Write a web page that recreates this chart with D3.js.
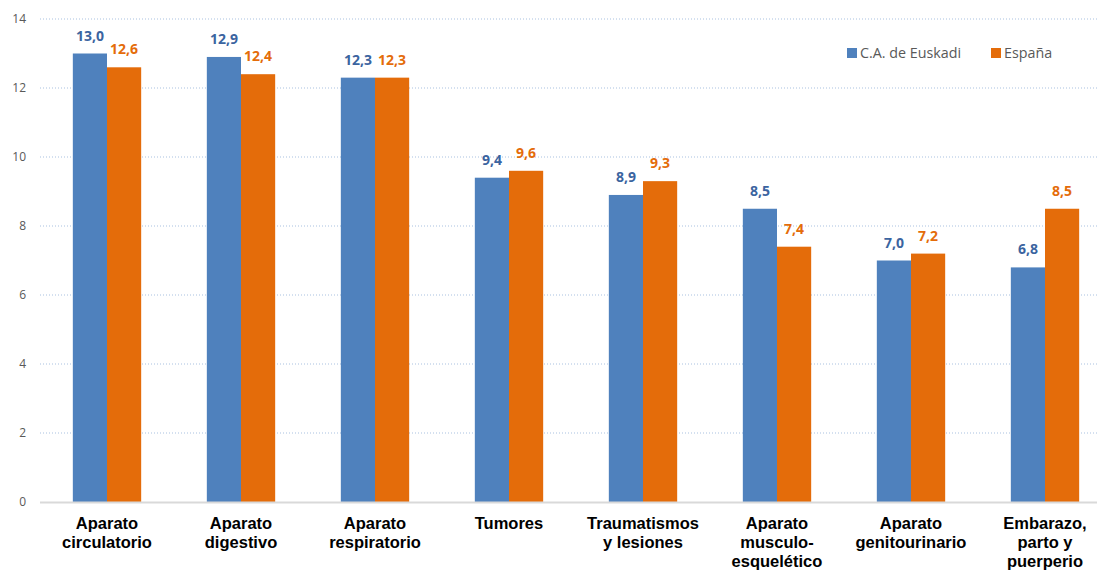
<!DOCTYPE html>
<html><head><meta charset="utf-8">
<script src="https://cdn.jsdelivr.net/npm/d3@7/dist/d3.min.js"></script>
<style>body{margin:0;background:#fff}svg{display:block}</style>
</head><body>
<svg id="c" width="1097" height="571"></svg>
<script>
const categories = [
  ["Aparato","circulatorio"],
  ["Aparato","digestivo"],
  ["Aparato","respiratorio"],
  ["Tumores"],
  ["Traumatismos","y lesiones"],
  ["Aparato","musculo-","esquelético"],
  ["Aparato","genitourinario"],
  ["Embarazo,","parto y","puerperio"]
];
const euskadi = [13.0, 12.9, 12.3, 9.4, 8.9, 8.5, 7.0, 6.8];
const espana  = [12.6, 12.4, 12.3, 9.6, 9.3, 7.4, 7.2, 8.5];
const seriesNames = ["C.A. de Euskadi", "España"];
const yTicks = [0, 2, 4, 6, 8, 10, 12, 14];

const colors = ["#4f81bd", "#e46c0a"];
const labelColors = ["#3b64a0", "#e46c0a"];
const svg = d3.select("#c");
const x0 = d3.scaleBand().domain(d3.range(categories.length)).range([40, 1112]).paddingInner(0.49).paddingOuter(0.245);
const x1 = d3.scaleBand().domain([0,1]).range([0, x0.bandwidth()]);
const y = d3.scaleLinear().domain([0, 14]).range([502, 19]);

// gridlines
svg.append("g").selectAll("line").data(yTicks.filter(d => d > 0)).join("line")
  .attr("x1", 40).attr("x2", 1097).attr("y1", d => y(d)).attr("y2", d => y(d))
  .attr("stroke", "#a9c1e0").attr("stroke-width", 1).attr("stroke-dasharray", "1,2");

// y axis labels
const yAxis = d3.axisLeft(y).tickValues(yTicks).tickSize(0).tickPadding(0).tickFormat(d3.format("d"));
const ya = svg.append("g").attr("transform", "translate(26,0)").call(yAxis);
ya.select(".domain").remove();
ya.selectAll("text").attr("font-family", "'Open Sans', sans-serif").attr("font-size", 12).attr("fill", "#595959");

const series = [euskadi, espana];
series.forEach((vals, s) => {
  const g = svg.append("g");
  g.selectAll("rect").data(vals).join("rect")
    .attr("x", (d, i) => x0(i) + x1(s))
    .attr("y", d => y(d))
    .attr("width", x1.bandwidth())
    .attr("height", d => y(0) - y(d))
    .attr("fill", colors[s]);
  g.selectAll("text").data(vals).join("text")
    .attr("x", (d, i) => x0(i) + x1(s) + x1.bandwidth() / 2)
    .attr("y", d => y(d) - 13)
    .attr("text-anchor", "middle")
    .attr("font-family", "'Open Sans', sans-serif").attr("font-weight", "bold")
    .attr("font-size", 14).attr("fill", labelColors[s])
    .text(d => d3.format(".1f")(d).replace(".", ","));
});

// baseline
svg.append("line").attr("x1", 40).attr("x2", 1097).attr("y1", y(0) + 0.5).attr("y2", y(0) + 0.5)
  .attr("stroke", "#d9d9d9").attr("stroke-width", 2);

// category labels
const cl = svg.append("g").selectAll("text").data(categories).join("text")
  .attr("x", (d, i) => x0(i) + x0.bandwidth() / 2)
  .attr("y", 529)
  .attr("text-anchor", "middle")
  .attr("font-family", "'Liberation Sans', Arial, sans-serif").attr("font-weight", "bold")
  .attr("font-size", 16.5).attr("fill", "#000");
cl.selectAll("tspan").data(d => d).join("tspan")
  .attr("x", function () { return d3.select(this.parentNode).attr("x"); })
  .attr("dy", (d, i) => i === 0 ? 0 : 19)
  .text(d => d);

// legend
const lg = svg.append("g");
const legendX = [847, 991];
seriesNames.forEach((n, s) => {
  lg.append("rect").attr("x", legendX[s]).attr("y", 48).attr("width", 10).attr("height", 10).attr("fill", colors[s]);
  lg.append("text").attr("x", legendX[s] + 13).attr("y", 58)
    .attr("font-family", "'Open Sans', sans-serif").attr("font-size", 14.3).attr("fill", "#595959").text(n);
});
</script>
</body></html>
